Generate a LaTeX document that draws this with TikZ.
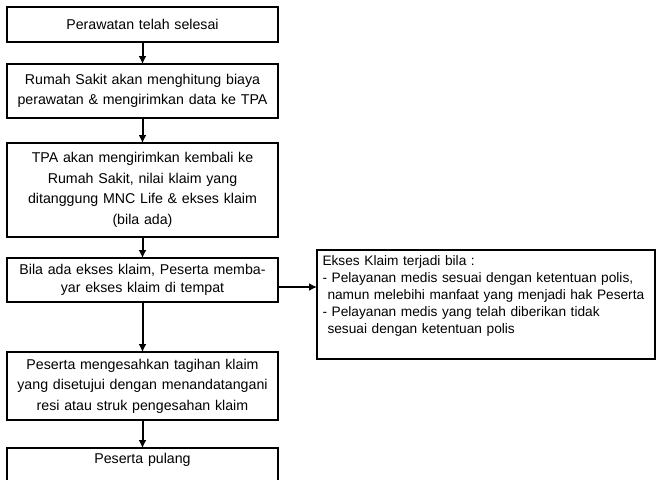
\documentclass[tikz,border=0pt]{standalone}
\usepackage{fontspec}
\setmainfont{Liberation Sans}
\usetikzlibrary{positioning,arrows.meta}

\begin{document}
\begin{tikzpicture}[x=1pt,y=-1pt,>={Latex[length=8pt,width=8pt]},
    proses/.style={draw,rectangle,line width=1.8pt,minimum width=271pt,
      text width=266pt,align=center,inner sep=0pt,outer sep=0pt,
      font=\fontsize{14.2}{20.5}\selectfont},
    catatan/.style={draw,rectangle,line width=1.6pt,minimum width=338pt,
      text width=327pt,align=left,inner xsep=5.5pt,inner ysep=6pt,outer sep=0pt,
      text depth=87pt,font=\fontsize{13.7}{17}\selectfont},
    panah/.style={->,line width=2pt}]
    \useasboundingbox (0,0) rectangle (660,479);
    \clip (0,0) rectangle (660,479);
    \node [proses,minimum height=35pt] (selesai) at (142.5,24.5) {Perawatan telah selesai};
    \node [proses,minimum height=54pt] (hitung) [below=22pt of selesai]
      {Rumah Sakit akan menghitung biaya\\perawatan \& mengirimkan data ke TPA};
    \node [proses,minimum height=94pt] (kirim) [below=25pt of hitung]
      {TPA akan mengirimkan kembali ke\\Rumah Sakit, nilai klaim yang\\ditanggung MNC Life \& ekses klaim\\(bila ada)};
    \node [proses,minimum height=44pt,font=\fontsize{14.2}{17.5}\selectfont] (bayar) [below=21pt of kirim]
      {Bila ada ekses klaim, Peserta memba-\\yar ekses klaim di tempat};
    \node [proses,minimum height=68pt] (sahkan) [below=50pt of bayar]
      {Peserta mengesahkan tagihan klaim\\yang disetujui dengan menandatangani\\resi atau struk pengesahan klaim};
    \node [proses,minimum height=35pt,text depth=14pt] (pulang) [below=28pt of sahkan] {Peserta pulang};
    \node [catatan,anchor=north west] (ekses) at (317,250)
      {Ekses Klaim terjadi bila :\\
       - Pelayanan medis sesuai dengan ketentuan polis,\\
       \hspace*{5pt}namun melebihi manfaat yang menjadi hak Peserta\\
       - Pelayanan medis yang telah diberikan tidak\\
       \hspace*{5pt}sesuai dengan ketentuan polis};
    \path [panah]
    (selesai) edge (hitung)
    (hitung) edge (kirim)
    (kirim) edge (bayar)
    (bayar) edge (sahkan)
    (sahkan) edge (pulang)
    ([yshift=-7pt]bayar.east) edge ([yshift=-7pt]bayar.east -| ekses.west)
    ;
\end{tikzpicture}
\end{document}
